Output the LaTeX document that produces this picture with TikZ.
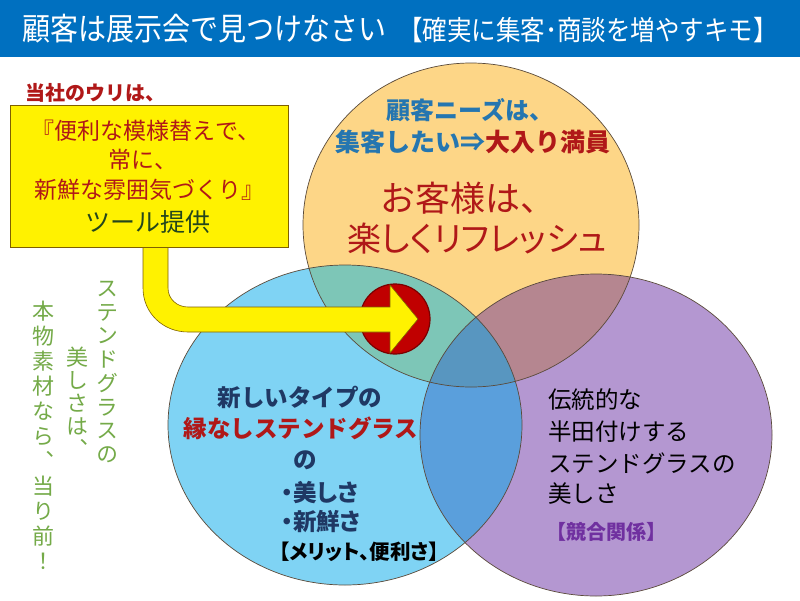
\documentclass[tikz,border=0pt]{standalone}
\usepackage{fontspec}
\setmainfont{Noto Sans CJK JP}
\newfontfamily\jpp{Noto Sans CJK JP}[RawFeature=+palt]
\newfontfamily\jpv{Noto Sans CJK JP}[RawFeature=+vert]
\definecolor{hdr}{HTML}{0070C0}
\definecolor{cY}{HTML}{FDD687}
\definecolor{cB}{HTML}{7FD3F4}
\definecolor{cP}{HTML}{B497D1}
\definecolor{cYB}{HTML}{7DC6B7}
\definecolor{cYP}{HTML}{B58690}
\definecolor{cBP}{HTML}{5A9FDC}
\definecolor{cYBP}{HTML}{5896C0}
\definecolor{edge}{HTML}{5A4A3A}
\definecolor{dred}{HTML}{B01818}
\definecolor{tblue}{HTML}{2576B0}
\definecolor{navy}{HTML}{1F3864}
\definecolor{dgreen}{HTML}{24461C}
\definecolor{vgreen}{HTML}{74AA48}
\definecolor{plabel}{HTML}{7030A0}
\definecolor{boxedge}{HTML}{7F6000}
\definecolor{redc}{HTML}{C00000}
\definecolor{redd}{HTML}{7A0000}
\tikzset{
  fs/.style={font=\fontsize{#1}{#1}\selectfont},
  fsb/.style={font=\fontsize{#1}{#1}\selectfont\bfseries},
  fsp/.style={font=\jpp\fontsize{#1}{#1}\selectfont},
  fspb/.style={font=\jpp\fontsize{#1}{#1}\selectfont\bfseries},
  vcol/.style={font=\jpv\fontsize{22}{#1}\selectfont, text=vgreen, align=center},
  circedge/.style={draw=edge, line width=0.7pt}
}
\begin{document}
\begin{tikzpicture}[x=1pt,y=-1pt, every node/.style={inner sep=0pt, outer sep=0pt}]
\useasboundingbox (0,0) rectangle (800,600);
\fill[white] (0,0) rectangle (800,600);
% header
\fill[hdr] (0,0) rectangle (800,57);
\node[fs=28, text=white, anchor=base west, transform shape, yscale=1.12] (title) at (22,40) {顧客は展示会で見つけなさい};
\node[fs=24.5, text=white, anchor=base west, transform shape, yscale=1.12] (subtitle) at (398,40) {【確実に集客･商談を増やすキモ】};
% circles
\fill[cY] (471,225) ellipse [x radius=168, y radius=162];
\fill[cB] (345,425) ellipse [x radius=177, y radius=160];
\fill[cP] (596,435) ellipse [x radius=176, y radius=161];
\begin{scope}
  \clip (345,425) ellipse [x radius=177, y radius=160];
  \fill[cYB] (471,225) ellipse [x radius=168, y radius=162];
\end{scope}
\begin{scope}
  \clip (596,435) ellipse [x radius=176, y radius=161];
  \fill[cYP] (471,225) ellipse [x radius=168, y radius=162];
\end{scope}
\begin{scope}
  \clip (596,435) ellipse [x radius=176, y radius=161];
  \fill[cBP] (345,425) ellipse [x radius=177, y radius=160];
\end{scope}
\begin{scope}
  \clip (596,435) ellipse [x radius=176, y radius=161];
  \clip (345,425) ellipse [x radius=177, y radius=160];
  \fill[cYBP] (471,225) ellipse [x radius=168, y radius=162];
\end{scope}
\draw[circedge] (471,225) ellipse [x radius=168, y radius=162];
\draw[circedge] (345,425) ellipse [x radius=177, y radius=160];
\draw[circedge] (596,435) ellipse [x radius=176, y radius=161];
% red disc
\node[circle, fill=redc, draw=redd, line width=1.2pt, minimum size=70pt] (dot) at (395,319) {};
% yellow bent arrow
\draw[fill=yellow, draw=boxedge, line width=0.6pt]
  (143,240) -- (143,288) .. controls (143,313) and (163,332) .. (188,332)
  -- (390,332) -- (390,353) -- (418,319) -- (390,285) -- (390,307)
  -- (188,307) .. controls (177,307) and (168,299) .. (168,288) -- (168,240) -- cycle;
% box
\node[draw=boxedge, fill=yellow, line width=0.6pt, minimum width=278pt, minimum height=142pt, anchor=north west] (box) at (10,105) {};
\node[fsb=20, text=dred] (uri) at (95,93) {当社のウリは、};
\node[fs=23, text=dred] (b1) at (146,131) {『便利な模様替えで、};
\node[fs=23, text=dred] (b2) at (143,160) {常に、};
\node[fs=23, text=dred] (b3) at (149,190) {新鮮な雰囲気づくり』};
\node[fs=25, text=dgreen] (b4) at (148,222) {ツール提供};
% top circle texts
\node[fsb=24, text=tblue] (t1) at (470,110) {顧客ニーズは、};
\node[fsb=25, text=tblue, anchor=base west] (t2a) at (335,151) {集客したい⇒};
\node[fsb=25, text=dred, anchor=base west] (t2b) at (t2a.base east) {大入り満員};
\node[fs=35, text=dred] (t3) at (468,198) {お客様は、};
\node[fsp=34, text=dred] (t4) at (477,239) {楽しくリフレッシュ};
% blue circle texts
\node[fsb=23.5, text=navy] (l1) at (300,397) {新しいタイプの};
\node[fsb=23.5, text=dred] (l2) at (301,428) {縁なしステンドグラス};
\node[fsb=23.5, text=navy] (l3) at (305,460) {の};
\node[fspb=23.5, text=navy] (l4) at (320,493) {・美しさ};
\node[fspb=23.5, text=navy] (l5) at (321,522) {・新鮮さ};
\node[fspb=20.5, text=black] (l6) at (359,552) {【メリット、便利さ】};
% purple circle texts
\node[fs=23.5, text=black, anchor=west] (r1) at (548,400) {伝統的な};
\node[fs=23.5, text=black, anchor=west] (r2) at (548,432) {半田付けする};
\node[fs=23.5, text=black, anchor=west] (r3) at (548,463) {ステンドグラスの};
\node[fs=23.5, text=black, anchor=west] (r4) at (548,494) {美しさ};
\node[fsb=20, text=plabel, anchor=west] (r5) at (546,532) {【競合関係】};
% vertical green texts
\node[vcol=23.75] (v1) at (107,372) {ス\\テ\\ン\\ド\\グ\\ラ\\ス\\の};
\node[vcol=23] (v2) at (77,402) {美\\し\\さ\\は\\、};
\node[vcol=25] (v3) at (43,435) {本\\物\\素\\材\\な\\ら\\、\\当\\り\\前\\！};
\end{tikzpicture}
\end{document}
